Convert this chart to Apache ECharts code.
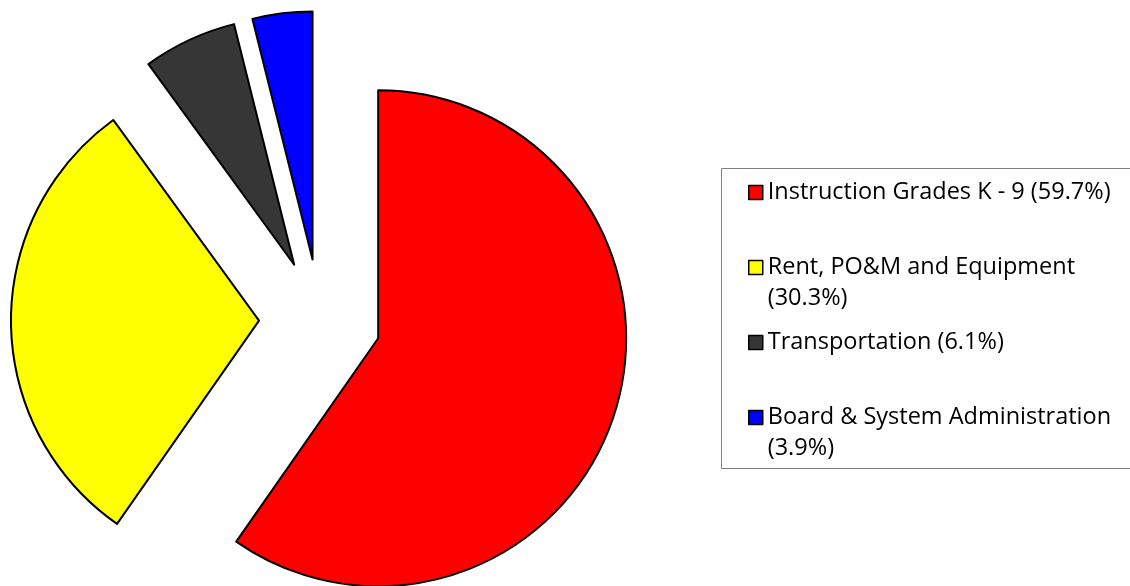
<!DOCTYPE html>
<html>
<head>
<meta charset="utf-8">
<script src="https://cdn.jsdelivr.net/npm/echarts@6/dist/echarts.min.js"></script>
<style>
  html, body { margin: 0; padding: 0; background: #fff; }
  #chart { width: 1130px; height: 586px; }
</style>
</head>
<body>
<div id="chart"></div>
<script>
const categories = ['Instruction Grades K - 9', 'Rent, PO&M and Equipment', 'Transportation', 'Board & System Administration'];
const shares = [59.7, 30.3, 6.1, 3.9];
const colors = ['#ff0000', '#ffff00', '#363636', '#0000ff'];
// where the legend text wraps onto a second line
const wrapped = [false, true, false, true];

const names = categories.map((c, i) => c + ' (' + shares[i] + '%)');
const lineH = 31;

const chart = echarts.init(document.getElementById('chart'));

chart.setOption({
  animation: false,
  backgroundColor: '#ffffff',
  graphic: [{
    type: 'rect',
    shape: { x: 721.5, y: 168.5, width: 430, height: 300 },
    style: { fill: 'none', stroke: '#808080', lineWidth: 1 },
    silent: true
  }],
  legend: {
    orient: 'vertical',
    left: 748,
    top: 177,
    padding: 0,
    itemGap: 13,
    itemWidth: 14,
    itemHeight: 14,
    selectedMode: false,
    icon: 'rect',
    itemStyle: { borderColor: '#000', borderWidth: 1.5 },
    // wrapped entries get an empty line above so the icon sits on the first text line
    formatter: name => {
      const i = names.indexOf(name);
      return wrapped[i] ? ' \n' + categories[i] + '\n(' + shares[i] + '%)' : name;
    },
    textStyle: { fontFamily: 'Open Sans', fontSize: 23.5, color: '#000', lineHeight: lineH },
    data: names
  },
  series: [{
    type: 'pie',
    center: [320, 320],
    radius: 248,
    startAngle: 90,
    clockwise: true,
    selectedMode: 'multiple',
    selectedOffset: 61,
    label: { show: false },
    labelLine: { show: false },
    emphasis: { disabled: true },
    itemStyle: { borderColor: '#000', borderWidth: 2 },
    data: names.map((n, i) => ({
      name: n,
      value: shares[i],
      selected: true,
      itemStyle: { color: colors[i] },
      select: { itemStyle: { color: colors[i], borderColor: '#000', borderWidth: 2 } }
    }))
  }]
});
</script>
</body>
</html>
